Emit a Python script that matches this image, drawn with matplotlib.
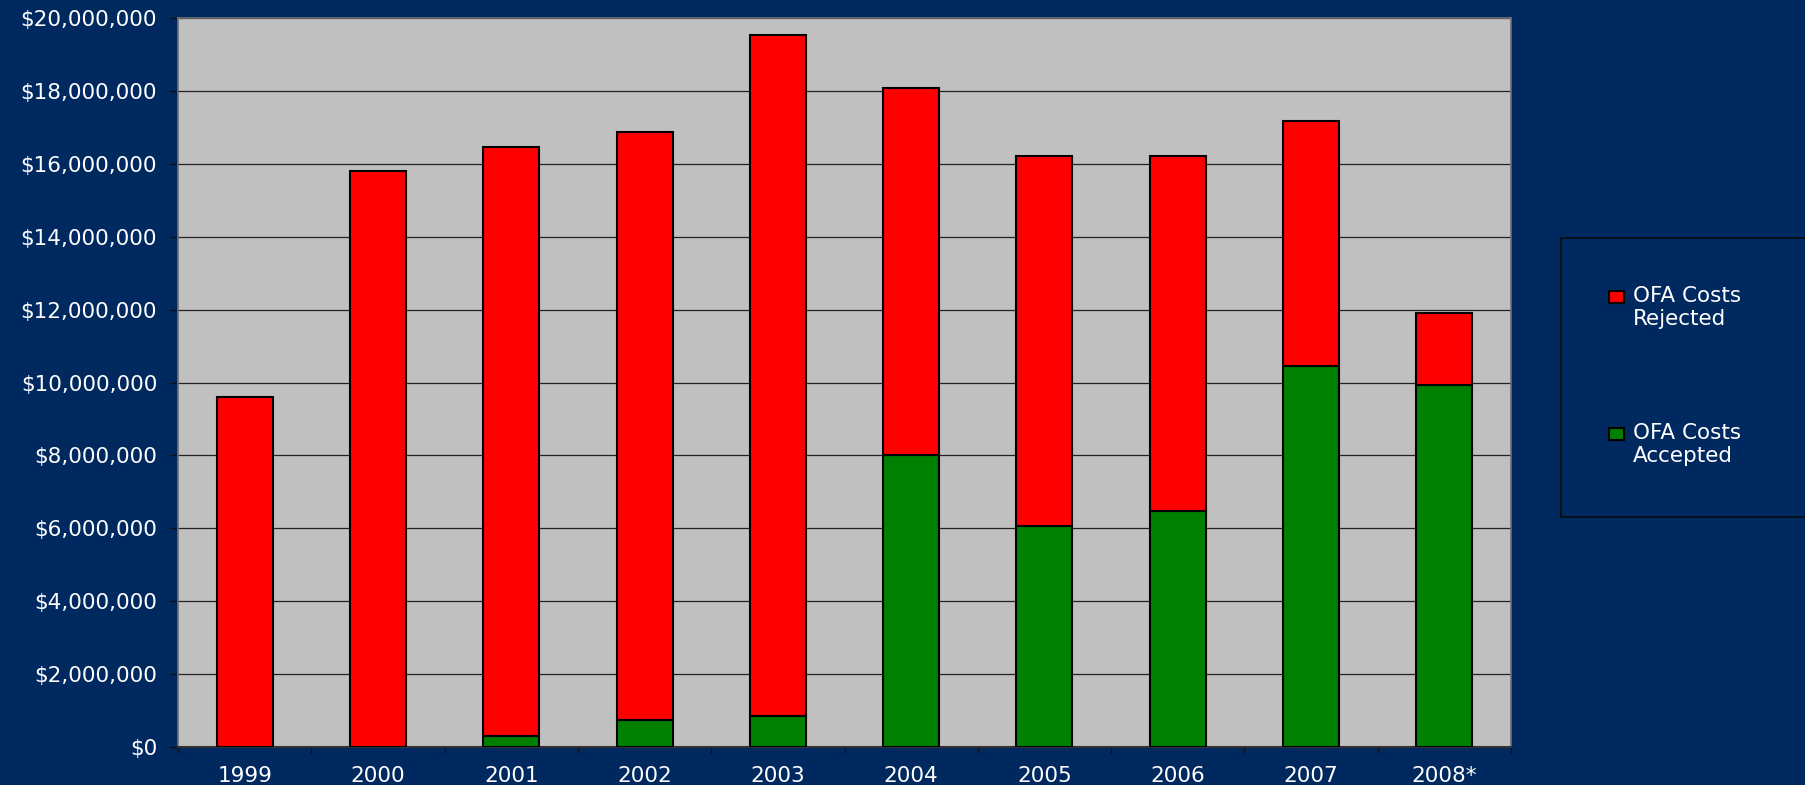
import numpy as np
import matplotlib
matplotlib.use("Agg")
import matplotlib.pyplot as plt
from matplotlib.patches import Rectangle
from matplotlib.ticker import FuncFormatter, FixedLocator

years = ['1999', '2000', '2001', '2002', '2003', '2004', '2005', '2006', '2007', '2008*']
accepted = [0.0, 0.0, 0.30, 0.74, 0.86, 8.01, 6.07, 6.47, 10.45, 9.93]   # $M
totals = [9.61, 15.79, 16.46, 16.86, 19.53, 18.09, 16.22, 16.22, 17.17, 11.92]  # $M
rejected = [t - a for t, a in zip(totals, accepted)]

navy = '#002960'
red = '#FF0000'
green = '#008000'

plt.rcParams['font.family'] = ['DejaVu Sans']

W, H = 1806, 785
fig = plt.figure(figsize=(W / 100, H / 100), dpi=100, facecolor=navy)
ax = fig.add_axes([178 / W, 1 - 747 / H, (1511 - 178) / W, (747 - 18) / H])
ax.set_facecolor('#C0C0C0')

x = np.arange(len(years))
acc = np.array(accepted) * 1e6
rej = np.array(rejected) * 1e6
ax.bar(x, acc, width=0.42, color=green, edgecolor='black', linewidth=1.5, zorder=3)
ax.bar(x, rej, width=0.42, bottom=acc, color=red, edgecolor='black', linewidth=1.5, zorder=3)

ax.set_xlim(-0.5, len(years) - 0.5)
ax.set_ylim(0, 20e6)
ax.set_yticks(np.arange(0, 20e6 + 1, 2e6))
ax.yaxis.set_major_formatter(FuncFormatter(lambda v, p: '${:,.0f}'.format(v)))
ax.grid(axis='y', color='#222222', linewidth=0.9, zorder=1)
ax.set_axisbelow(True)

ax.set_xticks(x)
ax.set_xticklabels(years)
ax.xaxis.set_minor_locator(FixedLocator(np.arange(-0.5, len(years), 1.0)))
ax.tick_params(axis='x', which='major', length=0, pad=14, labelsize=15.5, labelcolor='white')
ax.tick_params(axis='x', which='minor', length=4, width=1, color='#111111', direction='out')
ax.tick_params(axis='y', length=6, width=1, color='#111111', pad=9, labelsize=15.5, labelcolor='white')

for s in ['top', 'right', 'left']:
    ax.spines[s].set_color('#707070')
    ax.spines[s].set_linewidth(1.2)
ax.spines['bottom'].set_color('#333333')
ax.spines['bottom'].set_linewidth(1.5)

# legend box drawn in figure pixel coordinates
def fx(px):
    return px / W

def fy(py):
    return 1 - py / H

fig.patches.append(Rectangle((fx(1561), fy(517)), fx(1806 - 1561), (517 - 238) / H,
                             transform=fig.transFigure, facecolor=navy,
                             edgecolor='#0a0a0a', linewidth=1.2))
for col, lines, yc in [(red, ['OFA Costs', 'Rejected'], 297),
                       (green, ['OFA Costs', 'Accepted'], 434)]:
    fig.patches.append(Rectangle((fx(1609), fy(yc + 6)), fx(15), 12 / H,
                                 transform=fig.transFigure, facecolor=col,
                                 edgecolor='black', linewidth=1.5))
    for i, t in enumerate(lines):
        fig.text(fx(1633), fy(yc - 1 + 23 * i), t, color='white', fontsize=15.5,
                 va='center', ha='left')

fig.savefig('out.png', dpi=100, facecolor=navy)
